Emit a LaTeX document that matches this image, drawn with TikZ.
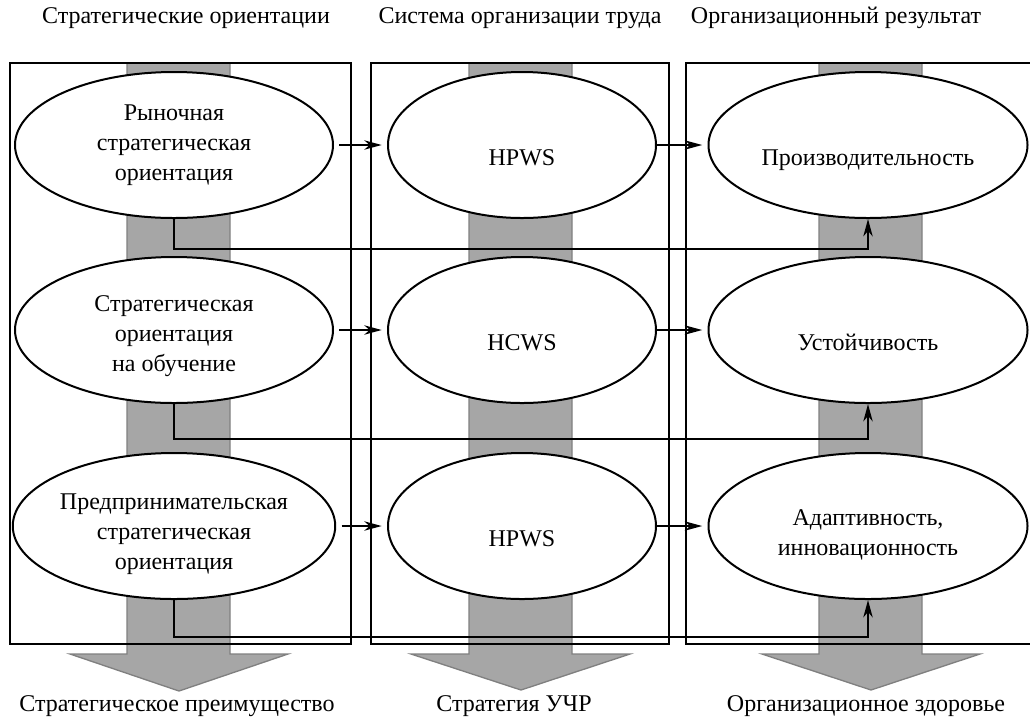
\documentclass[tikz,border=0pt]{standalone}
\usepackage{fontspec}
\setmainfont{Liberation Serif}
\usetikzlibrary{arrows.meta,shapes.geometric}

\begin{document}
\begin{tikzpicture}[x=0.75pt,y=-0.75pt,
    font=\fontsize{18pt}{22.5pt}\selectfont,
    oval/.style={draw, ellipse, fill=white, line width=1.5pt, inner sep=0pt,
      align=center, minimum height=109.5pt},
    leftoval/.style={oval, minimum width=238.5pt},
    midoval/.style={oval, minimum width=201pt},
    rightoval/.style={oval, minimum width=239.25pt},
    oneline/.style={text height=30pt, text depth=0pt},
    lowered/.style={text height=#1},
    link/.style={line width=1.5pt, -{Stealth[length=13pt,width=7pt,inset=4pt]}},
    panel/.style={line width=1.5pt}]
                                \useasboundingbox (0,0) rectangle (1030,719);

                                % Changing color 166 166 166
                                \definecolor{r166g166b166}{rgb}{0.650980,0.650980,0.650980}%
                                \definecolor{r128g128b128}{rgb}{0.501961,0.501961,0.501961}%

                                % Drawing wide arrow of column 1
                                \filldraw [fill=r166g166b166, draw=r128g128b128, line width=1pt]
                                  (127,63) -- (230,63) -- (230,654) -- (288,654) -- (179,691)
                                  -- (70,654) -- (127,654) -- cycle;%

                                % Drawing wide arrow of column 2
                                \filldraw [fill=r166g166b166, draw=r128g128b128, line width=1pt]
                                  (469,63) -- (572,63) -- (572,654) -- (630,654) -- (521,690)
                                  -- (411,654) -- (469,654) -- cycle;%

                                % Drawing wide arrow of column 3
                                \filldraw [fill=r166g166b166, draw=r128g128b128, line width=1pt]
                                  (819,63) -- (922,63) -- (922,654) -- (980,654) -- (871,690)
                                  -- (762,654) -- (819,654) -- cycle;%

                                % Changing color 0 0 0
                                \definecolor{r0g0b0}{rgb}{0.000000,0.000000,0.000000}%
                                \color{r0g0b0}%

                                % Drawing column frames
                                \draw [panel] (10,63) rectangle (351,644);%
                                \draw [panel] (371,63) rectangle (669,644);%
                                \draw [panel] (686,63) rectangle (1033,644);%

                                % Marking column titles
                                \node (headA) at (186,18) {Стратегические ориентации};%
                                \node (headB) at (520,18) {Система организации труда};%
                                \node (headC) at (836,18) {Организационный результат};%

                                % Marking strategic orientations
                                \node [leftoval] (market) at (174,145) {Рыночная\\стратегическая\\ориентация};%
                                \node [leftoval, lowered=66pt] (learning) at (174,330) {Стратегическая\\ориентация\\на обучение};%
                                \node [leftoval, lowered=69pt] (entrepr) at (174,526) {Предпринимательская\\стратегическая\\ориентация};%

                                % Marking work systems
                                \node [midoval, oneline] (hpwsA) at (522,145) {HPWS};%
                                \node [midoval, oneline] (hcws) at (522,330) {HCWS};%
                                \node [midoval, oneline] (hpwsB) at (522,526) {HPWS};%

                                % Marking organizational results
                                \node [rightoval, oneline] (product) at (868,145) {Производительность};%
                                \node [rightoval, oneline] (sustain) at (868,330) {Устойчивость};%
                                \node [rightoval, lowered=47pt] (adapt) at (868,526) {Адаптивность,\\инновационность};%

                                % Drawing links between rows
                                \draw [link, shorten <=4pt, shorten >=4pt] (market.east) -- (hpwsA.west);%
                                \draw [link, shorten <=4pt, shorten >=4pt] (learning.east) -- (hcws.west);%
                                \draw [link, shorten <=4pt, shorten >=4pt] (entrepr.east) -- (hpwsB.west);%
                                \draw [link, shorten >=4pt] (hpwsA.east) -- (product.west);%
                                \draw [link, shorten >=4pt] (hcws.east) -- (sustain.west);%
                                \draw [link, shorten >=4pt] (hpwsB.east) -- (adapt.west);%

                                % Drawing direct links
                                \draw [link] (market.south) -- ++(0,30) -| (product.south);%
                                \draw [link] (learning.south) -- ++(0,35) -| (sustain.south);%
                                \draw [link] (entrepr.south) -- ++(0,37) -| (adapt.south);%

                                % Marking column results
                                \node (footA) at (177,706) {Стратегическое преимущество};%
                                \node (footB) at (514,706) {Стратегия УЧР};%
                                \node (footC) at (866,706) {Организационное здоровье};%
                                \color{black}
\end{tikzpicture}
\end{document}
